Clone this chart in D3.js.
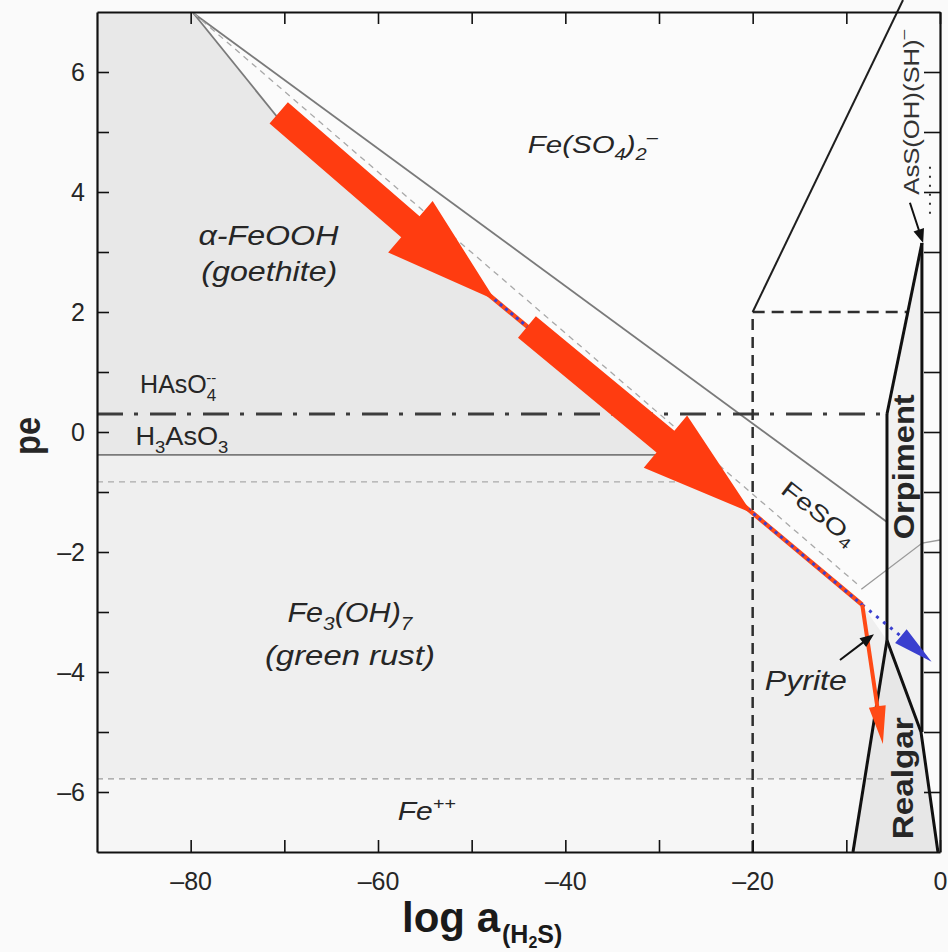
<!DOCTYPE html>
<html>
<head>
<meta charset="utf-8">
<script src="https://cdn.jsdelivr.net/npm/d3@7"></script>
<style>
  body { margin: 0; background: #fafafa; }
  svg text { font-family: "Liberation Sans", Arial, Helvetica, sans-serif; fill: #262626; }
</style>
</head>
<body>
<div id="chart"></div>
<script>
// ticks
var xTicks = d3.range(-80, 1, 10),
    yTicks = d3.range(-6, 7, 1);

// stability fields, points are [log aH2S, pe]
var goethiteField  = [[-90, 7], [-79.7, 7], [-70.5, 5.2], [-27.5, -0.38], [-90, -0.38]],
    greenRustField = [[-90, -0.38], [-27.5, -0.38], [-20, -1.35], [-8.3, -2.88], [-5.66, -3.47], [-8.04, -5.78], [-90, -5.78]],
    ferrousField   = [[-90, -5.78], [-8.04, -5.78], [-9.29, -7], [-90, -7]],
    orpimentField  = [[-5.66, 0.3], [-1.93, 3.15], [-1.93, -5.0], [-5.66, -3.47]],
    realgarField   = [[-5.66, -3.47], [-9.29, -7], [-0.22, -7], [-2.03, -5.0]];

// gray boundaries (iron / sulfur)
var sulfateLine   = [[-79.7, 6.98], [-5.66, -1.5]],
    goethiteTop   = [[-79.7, 6.98], [-70.5, 5.2]],
    sulfateDashed = [[-79.7, 6.98], [-8.5, -2.58]],
    feso4Corner   = [[-8.4, -2.62], [-1.9, -1.85], [0, -1.8]],
    goethiteBase  = [[-90, -0.38], [-27.5, -0.38]],
    greenRustTop  = [[-90, -0.83], [-24.1, -0.83]],
    ferrousTop    = [[-90, -5.78], [-5.7, -5.78]];

// arsenic boundaries
var arsenateLine  = [[-90, 0.3], [-5.66, 0.3]],
    h2sVertical   = [[-20, -7], [-20, 2]],
    h2sHorizontal = [[-20, 2], [-3.45, 2]],
    thioLine      = [[-20, 2], [-3.95, 7.2]],
    orpimentLeft  = [[-5.66, 0.3], [-5.66, -3.47]],
    orpimentTop   = [[-5.66, 0.3], [-1.93, 3.15]],
    orpimentRight = [[-1.93, 3.15], [-1.93, -5.0]],
    realgarLeft   = [[-5.66, -3.47], [-9.29, -7]],
    realgarRight  = [[-5.66, -3.47], [-2.03, -5.0], [-0.22, -7]],
    thioDotted    = [[-1.07, 4.42], [-1.07, 3.6]];

// reaction path and annotations
var reactionPath = [[-70.5, 5.2], [-47.5, 2.2], [-20, -1.35], [-8.3, -2.88]],
    redTail      = [[-8.3, -2.88], [-6.1, -5.2]],
    blueTail     = [[-8.3, -2.88], [-4.2, -3.4], [-0.9, -3.83]],
    bigArrows    = [[[-70.6, 5.32], [-47.5, 2.2]], [[-44.1, 1.75], [-20.1, -1.35]]],
    pointers     = [[[-10.68, -3.8], [-7.05, -3.37]], [[-3.21, 3.82], [-1.8, 3.15]]];

var width = 948, height = 952;

var x = d3.scaleLinear().domain([-90, 0]).range([97, 940]);
var y = d3.scaleLinear().domain([-7, 7]).range([852, 12]);
var line = d3.line().x(function(d) { return x(d[0]); }).y(function(d) { return y(d[1]); });

var svg = d3.select('#chart').append('svg')
  .attr('width', width)
  .attr('height', height);

svg.append('rect').attr('x', x(-90)).attr('y', y(7))
  .attr('width', x(0) - x(-90)).attr('height', y(-7) - y(7))
  .attr('fill', '#fbfbfb');

function field(pts, color) {
  svg.append('path').datum(pts).attr('d', line(pts) + 'Z').attr('fill', color);
}
field(goethiteField, '#e8e8e8');
field(greenRustField, '#efefef');
field(ferrousField, '#f6f6f6');
field(orpimentField, '#f1f1f1');
field(realgarField, '#e7e7e7');

function seg(pts, color, w, dash) {
  return svg.append('path').datum(pts).attr('d', line)
    .attr('fill', 'none').attr('stroke', color).attr('stroke-width', w)
    .attr('stroke-dasharray', dash || null);
}

// iron lines
seg(sulfateLine, '#7a7a7a', 1.8);
seg(goethiteTop, '#7a7a7a', 1.8);
seg(sulfateDashed, '#a8a8a8', 1.3, '6,5');
seg(feso4Corner, '#9a9a9a', 1.3);
seg(goethiteBase, '#7a7a7a', 1.8);
seg(greenRustTop, '#ababab', 1.3, '6,5');
seg(ferrousTop, '#9a9a9a', 1.3, '6,5');

// arsenic lines
seg(arsenateLine, '#3c3c3c', 3, '26,11,4,12');
seg(h2sVertical, '#2e2e2e', 2.5, '11,7');
seg(h2sHorizontal, '#2e2e2e', 2.5, '12,7');
seg(thioLine, '#1e1e1e', 2);
seg(thioDotted, '#333', 2, '2,7');
[orpimentLeft, orpimentTop, orpimentRight, realgarLeft, realgarRight].forEach(function(p) {
  seg(p, '#111', 3).attr('stroke-linejoin', 'round');
});

// arrow outline in pixel space
function arrowPts(p0, p1, shaftW, headW, headL) {
  var x0 = x(p0[0]), y0 = y(p0[1]), x1 = x(p1[0]), y1 = y(p1[1]);
  var dx = x1 - x0, dy = y1 - y0, L = Math.hypot(dx, dy);
  var ux = dx / L, uy = dy / L, nx = -uy, ny = ux;
  var bx = x1 - ux * headL, by = y1 - uy * headL;
  return [
    [x0 + nx * shaftW / 2, y0 + ny * shaftW / 2],
    [bx + nx * shaftW / 2, by + ny * shaftW / 2],
    [bx + nx * headW / 2, by + ny * headW / 2],
    [x1, y1],
    [bx - nx * headW / 2, by - ny * headW / 2],
    [bx - nx * shaftW / 2, by - ny * shaftW / 2],
    [x0 - nx * shaftW / 2, y0 - ny * shaftW / 2]
  ];
}
function polygon(pts, color) {
  svg.append('polygon').attr('points', pts.map(function(p) { return p.join(','); }).join(' '))
    .attr('fill', color);
}

// reaction path: red with blue dots
seg(reactionPath, '#ff4a16', 4.5).attr('stroke-linejoin', 'round');
seg(reactionPath, '#3a3fcf', 3, '3,4');
seg(blueTail.slice(0, 2), '#3a3fcf', 3, '3,6');
polygon(arrowPts(blueTail[1], blueTail[2], 0, 18, 40), '#3a3fcf');
polygon(arrowPts(redTail[0], redTail[1], 4, 17, 38), '#ff4a16');

// black pointers
pointers.forEach(function(p) {
  polygon(arrowPts(p[0], p[1], 2, 11, 14), '#111');
});

// big red annotation arrows
bigArrows.forEach(function(a) {
  polygon(arrowPts(a[0], a[1], 28, 68, 112), '#ff3c10');
});

// axes
function fmt(d) { return d < 0 ? '\u2013' + Math.abs(d) : '' + d; }

var gx = svg.append('g').attr('transform', 'translate(0,' + y(-7) + ')')
  .call(d3.axisBottom(x).tickValues(xTicks).tickSize(-12).tickSizeOuter(0).tickPadding(20)
    .tickFormat(function(d) { return d % 20 === 0 ? fmt(d) : ''; }));
var gt = svg.append('g').attr('transform', 'translate(0,' + y(7) + ')')
  .call(d3.axisTop(x).tickValues(xTicks).tickSize(-12).tickSizeOuter(0).tickFormat(''));
var gy = svg.append('g').attr('transform', 'translate(' + x(-90) + ',0)')
  .call(d3.axisLeft(y).tickValues(yTicks).tickSize(-12).tickSizeOuter(0).tickPadding(12)
    .tickFormat(function(d) { return d % 2 === 0 ? fmt(d) : ''; }));
var gr = svg.append('g').attr('transform', 'translate(' + x(0) + ',0)')
  .call(d3.axisRight(y).tickValues(yTicks).tickSize(-16).tickSizeOuter(0).tickFormat(''));

[gx, gt, gy, gr].forEach(function(g) {
  g.select('.domain').attr('stroke', '#111').attr('stroke-width', 2.2);
  g.selectAll('.tick line').attr('stroke', '#111').attr('stroke-width', 1.6);
  g.selectAll('.tick text').attr('font-size', 25).attr('fill', '#1e1e1e')
    .style('font-family', '"Liberation Sans", Arial, sans-serif');
});

// rich labels
function label(segs, px, py, opt) {
  var s = opt.size;
  var t = svg.append('text')
    .attr('font-size', s)
    .attr('font-style', opt.italic ? 'italic' : null)
    .attr('font-weight', opt.bold ? 'bold' : null)
    .attr('text-anchor', opt.anchor || 'start')
    .attr('transform', 'translate(' + px + ',' + py + ')' + (opt.rotate ? ' rotate(' + opt.rotate + ')' : ''));
  if (opt.len) t.attr('textLength', opt.len).attr('lengthAdjust', 'spacingAndGlyphs');
  if (opt.fill) t.style('fill', opt.fill);
  var shift = 0;
  segs.forEach(function(g) {
    if (typeof g === 'string') g = { t: g };
    var target = g.sub ? s * (g.deep || 0.3) : g.sup ? -s * 0.42 : 0;
    var ts = t.append('tspan').attr('dy', target - shift).text(g.t);
    if (g.sub || g.sup) ts.attr('font-size', g.size || s * 0.68);
    if (g.dx) ts.attr('dx', g.dx);
    shift = target;
  });
  return t;
}

label(['Fe(SO', { t: '4', sub: true }, ')', { t: '2', sub: true }, { t: '\u2013', sup: true }],
  x(-44), y(4.65), { size: 24, italic: true, len: 130 });
label(['\u03b1-FeOOH'], x(-71.7), y(3.12), { size: 27, italic: true, anchor: 'middle', len: 140 });
label(['(goethite)'], x(-71.6), y(2.52), { size: 27, italic: true, anchor: 'middle', len: 136 });
label(['HAsO', { t: '4', sub: true }, { t: '--', sup: true, dx: -10, size: 15 }],
  x(-85.4), y(0.65), { size: 25 });
label(['H', { t: '3', sub: true }, 'AsO', { t: '3', sub: true }], x(-85.9), y(-0.22), { size: 25, len: 93 });
label(['Fe', { t: '3', sub: true }, '(OH)', { t: '7', sub: true }], x(-63), y(-3.17), { size: 27, italic: true, anchor: 'middle', len: 125 });
label(['(green rust)'], x(-63), y(-3.88), { size: 27, italic: true, anchor: 'middle', len: 170 });
label(['Fe', { t: '++', sup: true, size: 17 }], x(-57.9), y(-6.47), { size: 26, italic: true, len: 58 });
label(['Pyrite'], x(-18.7), y(-4.3), { size: 27, italic: true, len: 82 });
label(['FeSO', { t: '4', sub: true }], x(-12.9), y(-1.35), { size: 23, anchor: 'middle', rotate: 38, len: 88 })
  .attr('dominant-baseline', 'central');
label(['Orpiment'], x(-3.84), y(-0.58), { size: 29, bold: true, anchor: 'middle', rotate: -90, len: 145 })
  .attr('dominant-baseline', 'central');
label(['Realgar'], x(-3.95), y(-5.77), { size: 29, bold: true, anchor: 'middle', rotate: -90, len: 122 })
  .attr('dominant-baseline', 'central');
label(['AsS(OH)(SH)', { t: '\u2013', sup: true }], x(-3.1), y(5.33), { size: 22, anchor: 'middle', rotate: -90, len: 165, fill: '#333' })
  .attr('dominant-baseline', 'central');

// axis titles
label(['pe'], 40, 436, { size: 36, bold: true, anchor: 'middle', rotate: -90, len: 38 });
label(['log a', { t: '(H', sub: true, size: 25, deep: 0.27, dx: 2 }, { t: '2', sub: true, size: 16, deep: 0.38 }, { t: 'S)', sub: true, size: 25, deep: 0.27 }],
  402, 932, { size: 42, bold: true, fill: '#1a1a1a' });
</script>
</body>
</html>
